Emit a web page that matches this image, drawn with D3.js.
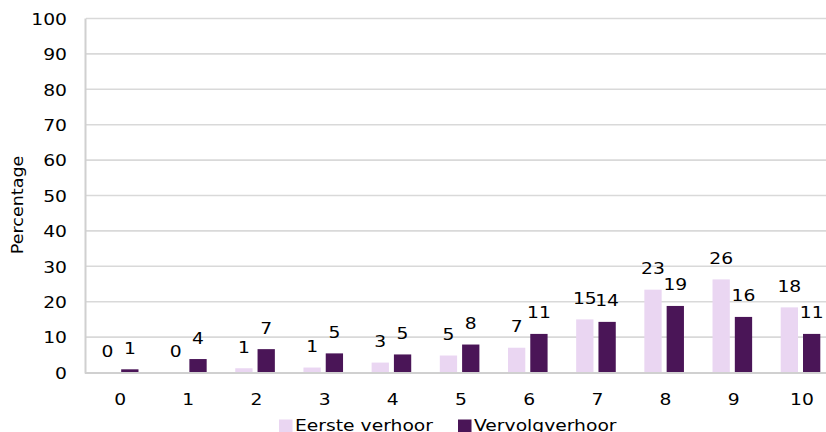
<!DOCTYPE html>
<html>
<head>
<meta charset="utf-8">
<script src="https://cdn.jsdelivr.net/npm/d3@7"></script>
<style>
  html, body { margin: 0; padding: 0; background: #fff; }
  svg { display: block; font-family: "DejaVu Sans", Verdana, sans-serif; }
</style>
</head>
<body>
<svg id="chart" width="826" height="432"></svg>
<script>
const categories = ["0","1","2","3","4","5","6","7","8","9","10"];
const seriesNames = ["Eerste verhoor", "Vervolgverhoor"];
const eersteVerhoor = [0, 0, 1.2, 1.4, 2.8, 4.8, 7.0, 15.0, 23.4, 26.3, 18.4];
const vervolgVerhoor = [0.9, 3.8, 6.6, 5.4, 5.1, 7.9, 10.9, 14.3, 18.8, 15.7, 10.9];
const yTicks = [0, 10, 20, 30, 40, 50, 60, 70, 80, 90, 100];
const colors = ["#ead6f2", "#4a1557"];
const yTitle = "Percentage";

const svg = d3.select("#chart");
const W = 826, H = 432;
const SX = 1.17; // horizontal stretch to mimic wider reference font

const x = d3.scaleBand().domain(categories).range([86, 836]).paddingInner(0).paddingOuter(0);
const xInner = d3.scaleBand().domain(seriesNames).range([-21.2, 18.4]).paddingInner(0.224);
const y = d3.scaleLinear().domain([0, 100]).range([372.5, 18.5]);

// gridlines
svg.append("g").selectAll("line").data(yTicks.filter(d => d > 0)).join("line")
  .attr("x1", 86).attr("x2", W)
  .attr("y1", d => y(d)).attr("y2", d => y(d))
  .attr("stroke", "#d9d9d9").attr("stroke-width", 1.6);

// y tick labels (axis)
const yAxis = d3.axisLeft(y).tickValues(yTicks).tickSize(0).tickPadding(0);
const gy = svg.append("g").attr("transform", "translate(67,0)").call(yAxis);
gy.select(".domain").remove();
gy.selectAll("text")
  .attr("x", 0).attr("dy", "0.36em")
  .attr("font-size", 16).attr("fill", "#000")
  .attr("font-family", "DejaVu Sans")
  .attr("transform", `scale(${SX},1)`);

// bars
const data = categories.map((c, i) => ({ c, vals: [eersteVerhoor[i], vervolgVerhoor[i]] }));
const groups = svg.append("g").selectAll("g").data(data).join("g")
  .attr("transform", d => `translate(${x(d.c) + x.bandwidth() / 2},0)`);

groups.selectAll("rect").data(d => d.vals.map((v, j) => ({ v, s: seriesNames[j], j }))).join("rect")
  .attr("x", d => xInner(d.s))
  .attr("width", xInner.bandwidth())
  .attr("y", d => y(d.v))
  .attr("height", d => y(0) - y(d.v))
  .attr("fill", d => colors[d.j]);

// data labels
groups.selectAll("text").data(d => d.vals.map((v, j) => ({ v, s: seriesNames[j], j }))).join("text")
  .attr("transform", d => `translate(${xInner(d.s) + xInner.bandwidth() / 2},${y(d.v) - 15.5}) scale(${SX},1)`)
  .attr("text-anchor", "middle")
  .attr("font-size", 16).attr("fill", "#000")
  .text(d => Math.round(d.v));

// x axis line
svg.append("line").attr("x1", 85).attr("x2", W).attr("y1", y(0) + 0.5).attr("y2", y(0) + 0.5)
  .attr("stroke", "#d0d0d0").attr("stroke-width", 2);
// y axis line
svg.append("line").attr("x1", 85.5).attr("x2", 85.5).attr("y1", y(100)).attr("y2", y(0) + 1)
  .attr("stroke", "#d0d0d0").attr("stroke-width", 2);

// x tick labels
const xAxis = d3.axisBottom(x).tickSize(0).tickPadding(0);
const gx = svg.append("g").attr("transform", "translate(0,405)").call(xAxis);
gx.select(".domain").remove();
gx.selectAll("text")
  .attr("y", 0).attr("dy", 0)
  .attr("font-size", 16).attr("fill", "#000")
  .attr("font-family", "DejaVu Sans")
  .attr("transform", `scale(${SX},1)`)
  .attr("x", 0);
// keep scaling centered on tick: apply scale inside tick translate
gx.selectAll(".tick text").attr("transform", `scale(${SX},1)`);

// y title
svg.append("text")
  .attr("transform", `translate(22.5,205) rotate(-90) scale(${SX},1)`)
  .attr("text-anchor", "middle")
  .attr("font-size", 15).attr("fill", "#000")
  .text(yTitle);

// legend
const legendX = [279, 458];
const leg = svg.append("g").selectAll("g").data(seriesNames).join("g")
  .attr("transform", (d, i) => `translate(${legendX[i]},0)`);
leg.append("rect").attr("x", 0).attr("y", 419.5).attr("width", 13.5).attr("height", 13.5)
  .attr("fill", (d, i) => colors[i]);
leg.append("text")
  .attr("transform", `translate(16,431) scale(${SX},1)`)
  .attr("font-size", 16).attr("fill", "#000")
  .text(d => d);
</script>
</body>
</html>
